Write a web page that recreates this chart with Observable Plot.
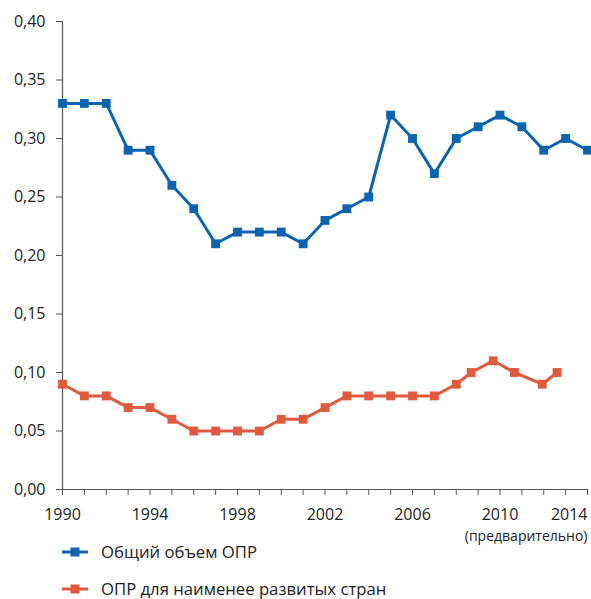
<!DOCTYPE html>
<html>
<head>
<meta charset="utf-8">
<script src="https://cdn.jsdelivr.net/npm/d3@7"></script>
<script src="https://cdn.jsdelivr.net/npm/@observablehq/plot@0.6"></script>
<style>
  html, body { margin: 0; background: #fff; font-family: "Open Sans", sans-serif; }
  #chart svg { display: block; }
  .legend { padding-left: 62px; margin-top: -6px; }
  .legend .row { display: flex; align-items: center; height: 20px; line-height: 20px; margin-bottom: 17px; font-size: 16.7px; color: #222; }
  .legend svg { flex: none; }
</style>
</head>
<body>
<div id="chart"></div>
<div class="legend" id="legend"></div>
<script>
// ---- data ----
const years = [1990, 1991, 1992, 1993, 1994, 1995, 1996, 1997, 1998, 1999, 2000, 2001, 2002,
               2003, 2004, 2005, 2006, 2007, 2008, 2009, 2010, 2011, 2012, 2013, 2014];
const totalODA = [0.33, 0.33, 0.33, 0.29, 0.29, 0.26, 0.24, 0.21, 0.22, 0.22, 0.22, 0.21, 0.23,
                  0.24, 0.25, 0.32, 0.30, 0.27, 0.30, 0.31, 0.32, 0.31, 0.29, 0.30, 0.29];
const ldcYears = [1990, 1991, 1992, 1993, 1994, 1995, 1996, 1997, 1998, 1999, 2000, 2001, 2002,
                  2003, 2004, 2005, 2006, 2007, 2008, 2008.68, 2009.69, 2010.66, 2011.93, 2012.61];
const ldcODA = [0.09, 0.08, 0.08, 0.07, 0.07, 0.06, 0.05, 0.05, 0.05, 0.05, 0.06, 0.06, 0.07,
                0.08, 0.08, 0.08, 0.08, 0.08, 0.09, 0.10, 0.11, 0.10, 0.09, 0.10];
const seriesNames = ["Общий объем ОПР", "ОПР для наименее развитых стран"];
const seriesColors = ["#0a64b0", "#e05a3e"];
const xTickLabels = [1990, 1994, 1998, 2002, 2006, 2010, 2014];
const yTicks = [0, 0.05, 0.10, 0.15, 0.20, 0.25, 0.30, 0.35, 0.40];
const prelimNote = "(предварительно)";

// ---- build ----
const total = years.map((x, i) => ({x, y: totalODA[i]}));
const ldc = ldcYears.map((x, i) => ({x, y: ldcODA[i]}));
const axisColor = "#555";
const textColor = "#222";
const fmt = d => d.toFixed(2).replace(".", ",");
const lastLabel = xTickLabels[xTickLabels.length - 1];

const chart = Plot.plot({
  width: 591,
  height: 548,
  marginLeft: 62,
  marginRight: 4,
  marginTop: 21,
  marginBottom: 59,
  style: {fontFamily: "Open Sans", fontSize: "16px", color: textColor, background: "#fff", overflow: "visible"},
  x: {domain: [years[0], years[years.length - 1]]},
  y: {domain: [0, 0.4]},
  marks: [
    Plot.axisY(yTicks, {tickSize: 6, tickPadding: 11, tickFormat: fmt, stroke: axisColor, fill: textColor, label: null}),
    Plot.axisX(years, {tickSize: 6, tickFormat: () => "", stroke: axisColor, label: null}),
    Plot.axisX(xTickLabels.slice(0, -1), {tickSize: 0, tickPadding: 19, tickFormat: d => String(d), fill: textColor, label: null}),
    Plot.axisX([lastLabel], {tickSize: 0, tickPadding: 19, tickFormat: d => String(d), textAnchor: "end", fill: textColor, label: null}),
    Plot.text([prelimNote], {x: () => lastLabel, y: () => 0, text: d => d, textAnchor: "end", dy: 47, fontSize: 14, fill: textColor}),
    Plot.ruleY([0], {stroke: axisColor, strokeWidth: 1.2}),
    Plot.ruleX([years[0]], {stroke: axisColor, strokeWidth: 1.2}),
    Plot.line(total, {x: "x", y: "y", stroke: seriesColors[0], strokeWidth: 3}),
    Plot.dot(total, {x: "x", y: "y", symbol: "square", r: 5, fill: seriesColors[0], stroke: "none"}),
    Plot.line(ldc, {x: "x", y: "y", stroke: seriesColors[1], strokeWidth: 3}),
    Plot.dot(ldc, {x: "x", y: "y", symbol: "square", r: 5, fill: seriesColors[1], stroke: "none"})
  ]
});
document.getElementById("chart").appendChild(chart);

// ---- legend ----
const legend = document.getElementById("legend");
seriesNames.forEach((name, i) => {
  const row = document.createElement("div");
  row.className = "row";
  row.innerHTML = `<svg width="39" height="20"><line x1="0" x2="26" y1="10" y2="10" stroke="${seriesColors[i]}" stroke-width="3"/><rect x="8.5" y="5.5" width="9" height="9" fill="${seriesColors[i]}"/></svg><span>${name}</span>`;
  legend.appendChild(row);
});
</script>
</body>
</html>
